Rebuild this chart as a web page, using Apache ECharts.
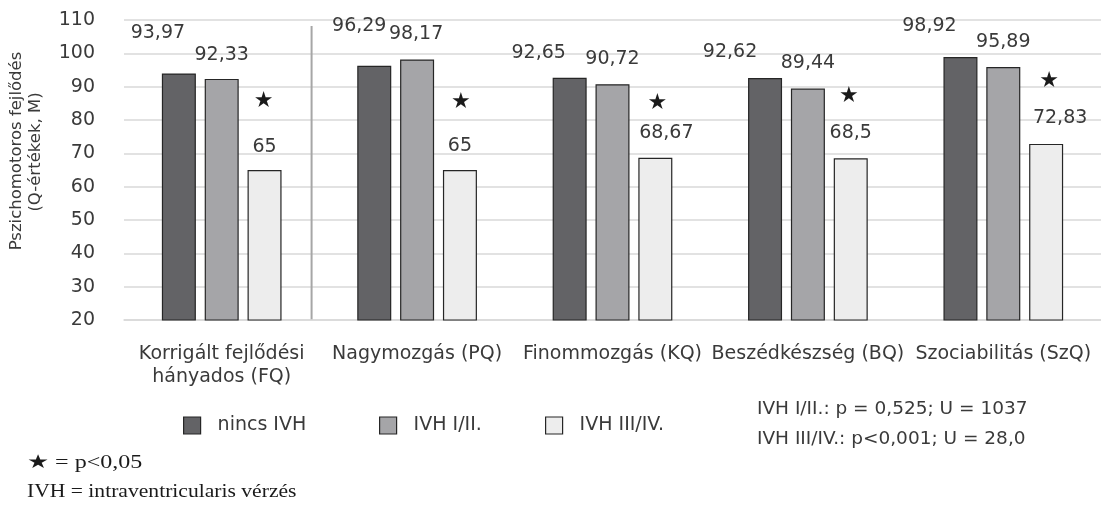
<!DOCTYPE html>
<html>
<head>
<meta charset="utf-8">
<script src="https://cdn.jsdelivr.net/npm/echarts@6/dist/echarts.min.js"></script>
<style>
html,body{margin:0;padding:0;background:#fff;}
#chart{width:1101px;height:508px;}
</style>
</head>
<body>
<div id="chart"></div>
<script>
// ---- data ----
const categories = ['Korrigált fejlődési\nhányados (FQ)', 'Nagymozgás (PQ)', 'Finommozgás (KQ)', 'Beszédkészség (BQ)', 'Szociabilitás (SzQ)'];
const seriesNames = ['nincs IVH', 'IVH I/II.', 'IVH III/IV.'];
const nincsIVH = [93.97, 96.29, 92.65, 92.62, 98.92];
const ivh12 = [92.33, 98.17, 90.72, 89.44, 95.89];
const ivh34 = [65, 65, 68.67, 68.5, 72.83];
const significant = [true, true, true, true, true];
const yMin = 20, yMax = 110, yStep = 10;
const statLines = ['IVH I/II.: p = 0,525; U = 1037', 'IVH III/IV.: p<0,001; U = 28,0'];
const footnotes = ['★ = p<0,05', 'IVH = intraventricularis vérzés'];
const yTitle = ['Pszichomotoros fejlődés', '(Q-értékek, M)'];

// ---- layout (label placement in pixels, as in the reference) ----
const labelShift = [
  [[-21, -30], [-15, -30], [-31, -15], [-35, -16], [-31, -21]],
  [[0, -14], [-1, -15], [0, -15], [0, -15], [0, -15]],
  [[0, -13], [0, -14], [11, -15], [0, -15], [14, -16]]
];
const starShift = [[-1, -69], [1, -68], [2, -54], [-2, -62], [3, -63]];

const FONT = 'DejaVu Sans';
const TXT = '#3a3a3a';
const colors = ['#636366', '#a5a5a8', '#ededed'];
const values = [nincsIVH, ivh12, ivh34];

const fmt = v => String(v).replace('.', ',');

const chart = echarts.init(document.getElementById('chart'));

const series = values.map((arr, s) => {
  const o = {
    name: seriesNames[s],
    type: 'bar',
    barWidth: 34,
    barGap: '26%',
    itemStyle: { color: colors[s], borderColor: '#262626', borderWidth: 1.2 },
    data: arr.map((v, i) => ({
      value: v,
      label: { offset: labelShift[s][i] }
    })),
    label: {
      show: true, position: 'top', distance: 0,
      lineHeight: 20,
      formatter: p => fmt(p.value),
      fontFamily: FONT, fontSize: 19, color: TXT
    },
    emphasis: { disabled: true }
  };
  if (s === 2) {
    o.markPoint = {
      symbol: 'rect', symbolSize: 1,
      itemStyle: { color: 'rgba(0,0,0,0)' },
      label: { show: true, position: 'inside', formatter: '★', fontFamily: 'DejaVu Sans', fontSize: 22, color: '#1a1a1a' },
      data: arr.map((v, i) => significant[i] ? ({ coord: [i, v], label: { offset: starShift[i] } }) : null).filter(Boolean)
    };
  }
  return o;
});

const legends = [183, 379, 545].map((x, i) => ({
  data: [{ name: seriesNames[i], icon: 'rect' }],
  left: x, top: 416, padding: 0,
  itemWidth: 17, itemHeight: 17,
  itemStyle: { borderColor: '#262626', borderWidth: 1.2 },
  textStyle: { fontFamily: FONT, fontSize: 19, color: TXT, padding: [0, 0, 0, 12] },
  selectedMode: false
}));

chart.setOption({
  animation: false,
  grid: { left: 124, right: -2, top: 20, bottom: 188, containLabel: false },
  legend: legends,
  xAxis: {
    type: 'category', data: categories,
    axisLine: { show: true, lineStyle: { color: '#d9d9d9', width: 1.5 } },
    axisTick: { show: false },
    axisLabel: { fontFamily: FONT, fontSize: 19, color: TXT, margin: 23, lineHeight: 23, interval: 0 }
  },
  yAxis: {
    type: 'value', min: yMin, max: yMax, interval: yStep,
    axisLine: { show: false }, axisTick: { show: false },
    splitLine: { lineStyle: { color: '#d9d9d9', width: 1.5 } },
    axisLabel: { fontFamily: FONT, fontSize: 19, color: TXT, margin: 29 }
  },
  series: series
});

// separator line between first and other categories, and texts
const x0 = chart.convertToPixel({ xAxisIndex: 0 }, 0);
const x1 = chart.convertToPixel({ xAxisIndex: 0 }, 1);
const sepX = x0 + (x1 - x0) * 0.46;
const yTop = chart.convertToPixel({ yAxisIndex: 0 }, 108.2);
const yBot = chart.convertToPixel({ yAxisIndex: 0 }, yMin);

chart.setOption({
  graphic: [
    { type: 'line', shape: { x1: sepX, y1: yTop, x2: sepX, y2: yBot }, style: { stroke: '#a6a6a6', lineWidth: 2 }, silent: true },
    { type: 'text', x: 17, y: 151, rotation: Math.PI / 2, style: { text: yTitle[0], fontFamily: FONT, fontSize: 16.5, fill: TXT, align: 'center', verticalAlign: 'middle' } },
    { type: 'text', x: 36, y: 152, rotation: Math.PI / 2, style: { text: yTitle[1], fontFamily: FONT, fontSize: 16.5, fill: TXT, align: 'center', verticalAlign: 'middle' } },
    { type: 'text', x: 757, y: 409, style: { text: statLines[0], fontFamily: FONT, fontSize: 18.5, fill: TXT, verticalAlign: 'middle' } },
    { type: 'text', x: 757, y: 439, style: { text: statLines[1], fontFamily: FONT, fontSize: 18.5, fill: TXT, verticalAlign: 'middle' } },
    { type: 'text', x: 27, y: 463, scaleX: 1.3, style: { text: footnotes[0], fontFamily: 'Liberation Serif', fontSize: 18.5, fill: '#1a1a1a', verticalAlign: 'middle' } },
    { type: 'text', x: 27, y: 492, scaleX: 1.2, style: { text: footnotes[1], fontFamily: 'Liberation Serif', fontSize: 18, fill: '#1a1a1a', verticalAlign: 'middle' } }
  ]
});
</script>
</body>
</html>
